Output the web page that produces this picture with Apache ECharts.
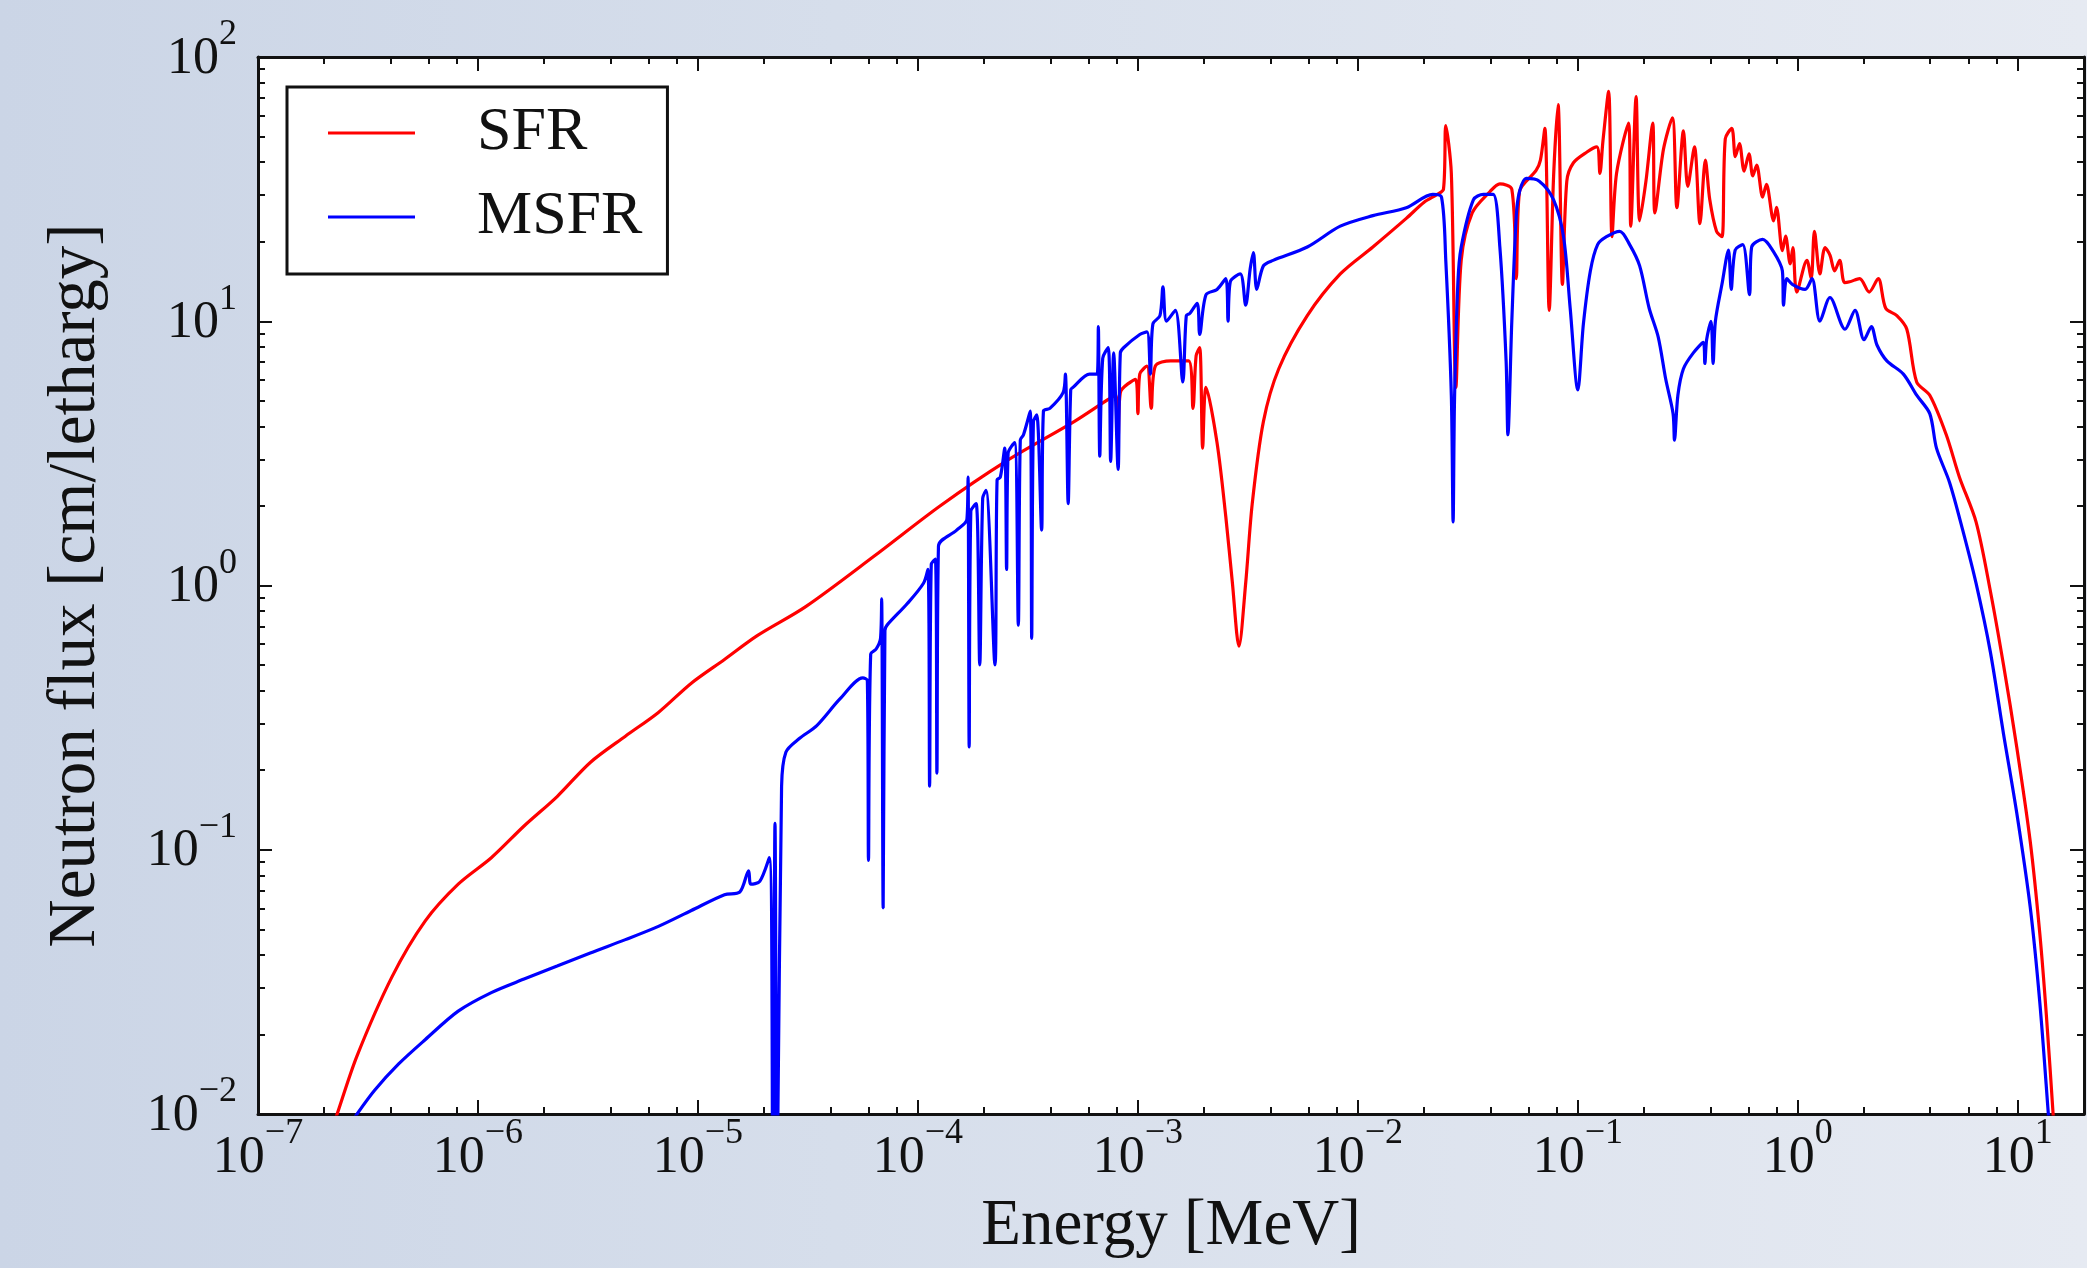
<!DOCTYPE html>
<html>
<head>
<meta charset="utf-8">
<script src="https://cdn.jsdelivr.net/npm/echarts@6/dist/echarts.min.js"></script>
<style>
html,body{margin:0;padding:0;width:2087px;height:1268px;overflow:hidden;
background:linear-gradient(90deg,#cbd5e6 0%,#d6deeb 40%,#e6eaf2 100%);}
#chart{width:2087px;height:1268px;}
</style>
</head>
<body>
<div id="chart"></div>
<script>
// ---- data (Energy in MeV, flux in cm/lethargy) ----
const sfrEnergy = [2.09e-7,2.29e-7,2.82e-7,4.07e-7,5.75e-7,8.13e-7,1.15e-6,1.62e-6,2.29e-6,3.24e-6,4.68e-6,6.61e-6,9.33e-6,1.32e-5,1.86e-5,3.09e-5,6.31e-5,1.26e-4,2.51e-4,5.13e-4,7.94e-4,8.13e-4,8.32e-4,9.77e-4,1.00e-3,1.02e-3,1.10e-3,1.15e-3,1.20e-3,1.41e-3,1.70e-3,1.78e-3,1.84e-3,1.91e-3,1.97e-3,2.04e-3,2.29e-3,2.51e-3,2.69e-3,2.88e-3,3.09e-3,3.31e-3,3.72e-3,4.37e-3,5.89e-3,8.32e-3,1.17e-2,1.66e-2,2.00e-2,2.29e-2,2.45e-2,2.51e-2,2.66e-2,2.79e-2,2.95e-2,3.31e-2,3.98e-2,4.42e-2,5.01e-2,5.25e-2,5.43e-2,6.46e-2,6.76e-2,7.08e-2,7.41e-2,7.76e-2,8.13e-2,8.51e-2,8.91e-2,9.55e-2,0.110,0.122,0.126,0.130,0.138,0.143,0.150,0.170,0.174,0.184,0.191,0.204,0.219,0.224,0.245,0.269,0.282,0.302,0.316,0.339,0.359,0.380,0.398,0.427,0.452,0.468,0.501,0.520,0.543,0.570,0.600,0.624,0.650,0.692,0.720,0.776,0.800,0.851,0.880,0.923,0.950,0.989,1.10,1.15,1.19,1.26,1.33,1.40,1.47,1.55,1.63,1.72,1.91,2.11,2.32,2.51,2.82,3.13,3.47,3.98,4.73,5.43,6.46,7.50,8.61,9.89,11.4,12.6,13.5,14.5,15.1];
const sfrFlux = [7.94e-3,1.00e-2,1.66e-2,3.31e-2,5.37e-2,7.41e-2,9.33e-2,0.123,0.159,0.214,0.269,0.331,0.427,0.525,0.646,0.832,1.29,2.00,2.95,4.17,5.25,3.55,5.37,6.03,4.47,6.31,6.76,4.68,6.76,7.08,7.08,4.68,7.41,7.94,3.31,5.62,3.47,1.82,1.02,0.589,1.02,2.04,4.17,6.61,10.5,15.1,19.1,24.5,28.2,30.2,31.6,55.0,36.3,5.62,17.0,25.7,30.9,33.1,31.6,14.5,30.9,37.2,40.7,53.7,11.0,35.5,66.1,13.8,33.9,39.8,43.7,45.7,36.3,47.9,74.1,20.9,36.3,56.2,22.9,70.8,24.0,33.9,56.2,25.7,44.7,58.9,26.9,52.5,32.4,45.7,23.4,40.7,28.8,21.9,20.9,49.0,53.7,42.0,47.0,37.0,43.0,35.5,39.0,29.5,33.0,24.0,27.0,18.5,21.0,16.5,19.0,12.9,17.0,14.5,21.9,15.1,19.0,17.8,15.5,17.0,14.0,14.1,14.5,12.9,14.5,11.2,10.5,9.33,5.89,5.25,3.72,2.57,1.74,0.955,0.501,0.245,0.107,0.0479,0.0234,0.00977,0.00562];

const msfrEnergy = [2.34e-7,2.82e-7,3.39e-7,4.37e-7,5.75e-7,8.13e-7,1.15e-6,1.62e-6,2.29e-6,3.24e-6,4.68e-6,6.61e-6,9.33e-6,1.32e-5,1.55e-5,1.70e-5,1.74e-5,1.91e-5,2.11e-5,2.19e-5,2.24e-5,2.29e-5,2.40e-5,2.51e-5,2.88e-5,3.47e-5,4.42e-5,5.62e-5,5.89e-5,5.96e-5,6.10e-5,6.46e-5,6.76e-5,6.84e-5,6.95e-5,7.08e-5,7.24e-5,8.91e-5,1.06e-4,1.11e-4,1.13e-4,1.15e-4,1.20e-4,1.22e-4,1.24e-4,1.50e-4,1.67e-4,1.69e-4,1.71e-4,1.74e-4,1.84e-4,1.91e-4,1.97e-4,2.04e-4,2.24e-4,2.29e-4,2.37e-4,2.48e-4,2.53e-4,2.57e-4,2.75e-4,2.86e-4,2.92e-4,3.02e-4,3.24e-4,3.29e-4,3.35e-4,3.47e-4,3.65e-4,3.72e-4,3.98e-4,4.57e-4,4.68e-4,4.82e-4,4.95e-4,5.07e-4,6.03e-4,6.53e-4,6.61e-4,6.71e-4,6.92e-4,7.33e-4,7.52e-4,7.76e-4,8.13e-4,8.32e-4,8.61e-4,1.02e-3,1.10e-3,1.14e-3,1.17e-3,1.26e-3,1.30e-3,1.35e-3,1.48e-3,1.60e-3,1.66e-3,1.72e-3,1.86e-3,1.91e-3,2.04e-3,2.29e-3,2.51e-3,2.57e-3,2.63e-3,2.92e-3,3.09e-3,3.24e-3,3.35e-3,3.47e-3,3.72e-3,4.12e-3,5.89e-3,8.32e-3,1.17e-2,1.66e-2,2.19e-2,2.40e-2,2.51e-2,2.66e-2,2.71e-2,2.75e-2,2.85e-2,2.95e-2,3.35e-2,3.72e-2,4.12e-2,4.42e-2,4.72e-2,4.81e-2,5.01e-2,5.25e-2,5.43e-2,5.82e-2,6.68e-2,7.76e-2,8.61e-2,9.23e-2,0.100,0.106,0.114,0.123,0.135,0.155,0.172,0.191,0.211,0.232,0.251,0.271,0.275,0.285,0.302,0.335,0.372,0.378,0.385,0.403,0.412,0.422,0.452,0.484,0.498,0.519,0.562,0.603,0.617,0.692,0.767,0.851,0.861,0.891,0.944,1.08,1.16,1.26,1.40,1.64,1.82,2.00,2.16,2.29,2.54,3.02,3.47,3.98,4.27,4.90,5.62,6.46,7.50,8.61,9.89,11.4,12.6,13.8,14.5];
const msfrFlux = [7.94e-3,1.00e-2,1.23e-2,1.55e-2,1.91e-2,2.45e-2,2.88e-2,3.24e-2,3.63e-2,4.07e-2,4.57e-2,5.13e-2,5.89e-2,6.76e-2,6.92e-2,8.32e-2,7.41e-2,7.59e-2,9.33e-2,5.01e-3,0.126,5.01e-3,0.174,0.234,0.263,0.295,0.372,0.447,0.437,0.0912,0.550,0.575,0.631,0.891,0.0603,0.676,0.708,0.851,1.02,1.15,0.174,1.20,1.26,0.195,1.41,1.62,1.78,2.57,0.245,1.91,2.04,0.501,2.14,2.29,0.501,2.51,2.57,3.31,1.15,3.16,3.47,0.708,3.55,3.72,4.57,0.631,4.17,4.42,1.62,4.57,4.68,5.37,6.31,2.04,5.50,5.62,6.31,6.31,9.55,3.09,7.24,7.94,2.95,7.59,2.75,7.59,7.94,8.91,9.12,6.31,9.77,10.5,13.5,10.0,11.0,5.89,10.5,10.7,11.7,8.91,12.6,13.2,14.5,10.0,14.1,15.1,11.5,15.8,18.2,13.2,16.2,17.0,19.1,22.9,25.1,26.9,30.2,29.5,17.0,5.25,1.74,5.01,14.1,19.1,28.8,30.2,30.2,19.1,7.08,3.72,10.0,25.1,30.9,34.7,33.9,28.8,20.9,11.2,5.50,9.77,15.5,19.5,20.9,21.9,19.5,16.2,11.2,8.71,6.03,4.47,3.55,5.25,6.61,7.59,8.32,6.92,8.51,10.0,6.92,10.0,13.8,18.6,13.2,18.6,19.5,12.6,19.1,20.4,18.6,15.5,11.5,14.5,13.8,13.2,14.5,10.0,12.3,9.33,11.0,8.51,9.55,8.13,7.08,6.31,5.25,4.47,3.31,2.45,1.62,1.02,0.562,0.275,0.138,0.0603,0.0263,0.00977,0.00562];

const seriesNames = ['SFR', 'MSFR'];
const xMajorExponents = [-7, -6, -5, -4, -3, -2, -1, 0, 1];
const xMinorMultipliers = [2, 4, 6, 8];
const yMajorExponents = [-2, -1, 0, 1, 2];
const yMinorMultipliers = [2, 3, 4, 5, 6, 7, 8, 9];
const xRange = [1e-7, 20];
const yRange = [1e-2, 1e2];
const xTitle = 'Energy [MeV]';
const yTitle = 'Neutron flux [cm/lethargy]';

// ---- build ----
const L = Math.log10;
const FONT = '"Liberation Serif", "DejaVu Serif", serif';
const INK = '#111';
const xMin = L(xRange[0]), xMax = L(xRange[1]);
const yMin = L(yRange[0]), yMax = L(yRange[1]);

function minorTicks(exps, mults, lo, hi) {
  const out = [];
  exps.forEach(n => mults.forEach(m => {
    const v = n + L(m);
    if (v > lo + 1e-9 && v < hi - 1e-9) out.push(v);
  }));
  return out;
}
const xMinor = minorTicks(xMajorExponents, xMinorMultipliers, xMin, xMax);
const yMinor = minorTicks(yMajorExponents, yMinorMultipliers, yMin, yMax);

const rich = {
  b: { fontFamily: FONT, fontSize: 52, lineHeight: 68, color: INK, verticalAlign: 'bottom' },
  s: { fontFamily: FONT, fontSize: 36, lineHeight: 36, color: INK, verticalAlign: 'top' }
};
const fmt = v => '{b|10}{s|' + String(Math.round(v)).replace('-', '\u2212') + '}';
const frameLine = { color: INK, width: 3 };
const tickLine = { color: INK, width: 2 };

function axis(dim, pos, major, extra) {
  const isX = dim === 'x';
  const a = {
    type: 'value',
    position: pos,
    min: isX ? xMin : yMin,
    max: isX ? xMax : yMax,
    splitLine: { show: false },
    axisLine: { show: major, onZero: false, lineStyle: frameLine },
    axisTick: {
      show: true, inside: true,
      length: major ? 14 : 7,
      customValues: major ? (isX ? xMajorExponents : yMajorExponents) : (isX ? xMinor : yMinor),
      lineStyle: tickLine
    },
    axisLabel: { show: false },
    axisPointer: { show: false }
  };
  return Object.assign(a, extra || {});
}

const xAxes = [
  axis('x', 'bottom', true, {
    axisLabel: { show: true, customValues: xMajorExponents, margin: 2, formatter: fmt, rich: rich },
    name: xTitle, nameLocation: 'middle', nameGap: 80, nameMoveOverlap: false,
    nameTextStyle: { fontFamily: FONT, fontSize: 65, color: INK }
  }),
  axis('x', 'bottom', false),
  axis('x', 'top', true),
  axis('x', 'top', false)
];
const yAxes = [
  axis('y', 'left', true, {
    axisLabel: { show: true, customValues: yMajorExponents, margin: 21, padding: [0, 0, 12, 0], formatter: fmt, rich: rich },
    name: yTitle, nameLocation: 'middle', nameGap: 148, nameRotate: 90, nameMoveOverlap: false,
    nameTextStyle: { fontFamily: FONT, fontSize: 67, color: INK }
  }),
  axis('y', 'left', false),
  axis('y', 'right', true),
  axis('y', 'right', false)
];

const lineCommon = { type: 'line', xAxisIndex: 0, yAxisIndex: 0, symbol: 'none', showSymbol: false, clip: true, smooth: 0.3 };

const chart = echarts.init(document.getElementById('chart'), null, { renderer: 'canvas' });
chart.setOption({
  backgroundColor: 'transparent',
  animation: false,
  grid: { left: 258, right: 3, top: 57, bottom: 154, show: true, backgroundColor: '#ffffff', borderWidth: 0, containLabel: false, outerBoundsMode: 'none' },
  xAxis: xAxes,
  yAxis: yAxes,
  legend: {
    show: true, orient: 'vertical', left: 287, top: 87,
    padding: [15, 25, 26, 41], itemGap: 22,
    itemWidth: 87, itemHeight: 3, icon: 'rect',
    backgroundColor: '#ffffff', borderColor: INK, borderWidth: 3, borderRadius: 0,
    textStyle: { fontFamily: FONT, fontSize: 62, lineHeight: 62, color: INK, padding: [0, 0, 0, 57] },
    data: seriesNames
  },
  series: [
    Object.assign({}, lineCommon, {
      name: seriesNames[0],
      data: sfrEnergy.map((e, i) => [L(e), L(sfrFlux[i])]),
      lineStyle: { color: '#ff0000', width: 3.2 }, itemStyle: { color: '#ff0000' }, z: 3
    }),
    Object.assign({}, lineCommon, {
      name: seriesNames[1],
      data: msfrEnergy.map((e, i) => [L(e), L(msfrFlux[i])]),
      lineStyle: { color: '#0000ff', width: 3.2 }, itemStyle: { color: '#0000ff' }, z: 4
    })
  ]
});
</script>
</body>
</html>
